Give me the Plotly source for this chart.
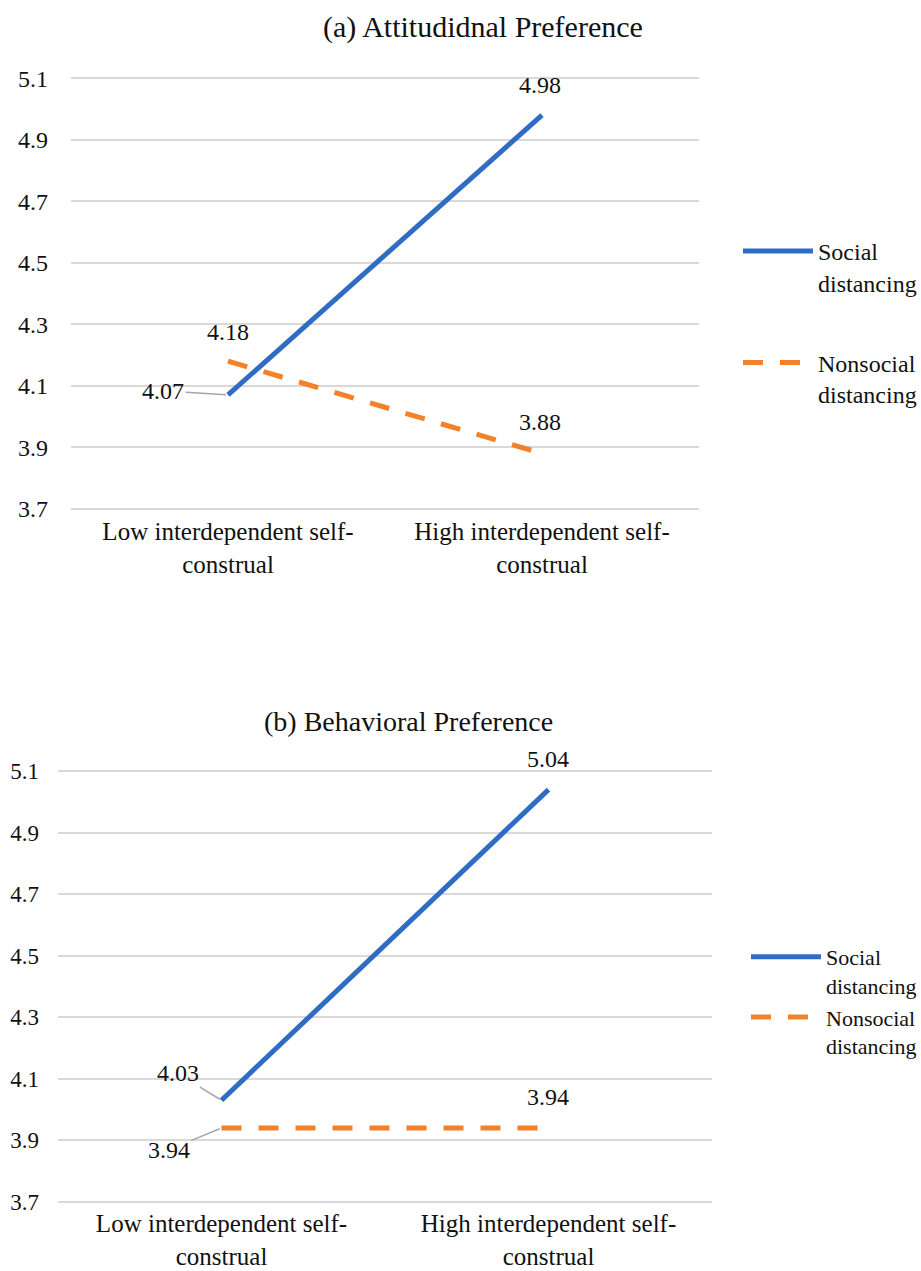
import plotly.graph_objects as go

categories = ["Low interdependent self-construal", "High interdependent self-construal"]
tick_text = ["Low interdependent self-<br>construal", "High interdependent self-<br>construal"]
series_names = ["Social distancing", "Nonsocial distancing"]
legend_text = ["Social<br>distancing", "Nonsocial<br>distancing"]

att_social = [4.07, 4.98]
att_nonsocial = [4.18, 3.88]
beh_social = [4.03, 5.04]
beh_nonsocial = [3.94, 3.94]

y_ticks = [3.7, 3.9, 4.1, 4.3, 4.5, 4.7, 4.9, 5.1]
titles = ["(a) Attitudidnal Preference", "(b) Behavioral Preference"]

BLUE = "#2F6CC3"
ORANGE = "#F4812A"
FONT = "Liberation Serif"
W, H = 921, 1271

fig = go.Figure()

fig.add_trace(go.Scatter(x=categories, y=att_social, name=legend_text[0], mode="lines",
                         line=dict(color=BLUE, width=5), xaxis="x", yaxis="y",
                         legend="legend", legendgroup="a1"))
fig.add_trace(go.Scatter(x=categories, y=att_nonsocial, name=legend_text[1], mode="lines",
                         line=dict(color=ORANGE, width=5, dash="20px,17px"), xaxis="x", yaxis="y",
                         legend="legend", legendgroup="a2"))
fig.add_trace(go.Scatter(x=categories, y=beh_social, name=legend_text[0], mode="lines",
                         line=dict(color=BLUE, width=5), xaxis="x2", yaxis="y2",
                         legend="legend2", legendgroup="b1"))
fig.add_trace(go.Scatter(x=categories, y=beh_nonsocial, name=legend_text[1], mode="lines",
                         line=dict(color=ORANGE, width=5, dash="20px,17px"), xaxis="x2", yaxis="y2",
                         legend="legend2", legendgroup="b2"))

def px_x(p):
    return p / W

def px_y(p):
    return 1 - p / H

axis_common = dict(showline=False, zeroline=False, ticks="", fixedrange=True, automargin=False)
xaxis_common = dict(axis_common, type="category", categoryorder="array", categoryarray=categories,
                    range=[-0.5, 1.5], showgrid=False, tickvals=categories, ticktext=tick_text,
                    tickfont=dict(family=FONT, size=25, color="#111"), ticklabelstandoff=4)
yaxis_common = dict(axis_common, range=[3.696, 5.104], tickvals=y_ticks,
                    ticktext=[f"{v:.1f}" for v in y_ticks], showgrid=True,
                    gridcolor="#D9D9D9", gridwidth=1.5,
                    tickfont=dict(family=FONT, size=24, color="#111"), ticklabelstandoff=22)

fig.update_layout(
    width=W, height=H, autosize=False,
    margin=dict(l=0, r=0, t=0, b=0, pad=0, autoexpand=False),
    paper_bgcolor="white", plot_bgcolor="white",
    font=dict(family=FONT, size=24, color="#111"),
    xaxis=dict(xaxis_common, domain=[px_x(71), px_x(699)], anchor="y"),
    yaxis=dict(yaxis_common, domain=[px_y(510), px_y(77)], anchor="x"),
    xaxis2=dict(xaxis_common, domain=[px_x(58), px_x(712)], anchor="y2", ticklabelstandoff=3),
    yaxis2=dict(yaxis_common, domain=[px_y(1203), px_y(770)], anchor="x2", ticklabelstandoff=18,
                tickfont=dict(family=FONT, size=23, color="#111")),
    legend=dict(x=px_x(738), y=px_y(229), xanchor="left", yanchor="top",
                font=dict(family=FONT, size=24, color="#111"), valign="top", itemwidth=70,
                tracegroupgap=46, bgcolor="rgba(0,0,0,0)"),
    legend2=dict(x=px_x(746), y=px_y(936), xanchor="left", yanchor="top",
                 font=dict(family=FONT, size=22, color="#111"), valign="top", itemwidth=70,
                 tracegroupgap=0, bgcolor="rgba(0,0,0,0)"),
    showlegend=True,
)

# Titles
fig.add_annotation(text=titles[0], x=px_x(483), y=px_y(27), xref="paper", yref="paper",
                   xanchor="center", yanchor="middle",
                   showarrow=False, font=dict(family=FONT, size=30, color="#111"))
fig.add_annotation(text=titles[1], x=px_x(408), y=px_y(721), xref="paper", yref="paper",
                   xanchor="center", yanchor="middle",
                   showarrow=False, font=dict(family=FONT, size=28, color="#111"))

lab_font = dict(family=FONT, size=24, color="#111")
LEADER = "#A6A6A6"

def lbl(xi, val, ax_, ay_, xref, yref, leader=False):
    if leader:
        fig.add_annotation(x=categories[xi], y=val, xref=xref, yref=yref, text=f"{val:.2f}",
                           showarrow=True, arrowhead=0, arrowwidth=1.5, arrowcolor=LEADER,
                           ax=ax_, ay=ay_, standoff=2, font=lab_font)
    else:
        fig.add_annotation(x=categories[xi], y=val, xref=xref, yref=yref, text=f"{val:.2f}",
                           showarrow=False, xshift=ax_, yshift=-ay_, font=lab_font)

# (a)
lbl(0, att_social[0], -65, -4, "x", "y", leader=True)
lbl(0, att_nonsocial[0], 0, -29, "x", "y")
lbl(1, att_social[1], -2, -30, "x", "y")
lbl(1, att_nonsocial[1], -2, -31, "x", "y")
# (b)
lbl(0, beh_social[0], -44, -27, "x2", "y2", leader=True)
lbl(0, beh_nonsocial[0], -53, 22, "x2", "y2", leader=True)
lbl(1, beh_social[1], -1, -31, "x2", "y2")
lbl(1, beh_nonsocial[1], -1, -31, "x2", "y2")

fig.write_html("out.html", config={"displayModeBar": False},
               post_script="document.body.style.margin='0px';document.body.style.padding='0px';")
